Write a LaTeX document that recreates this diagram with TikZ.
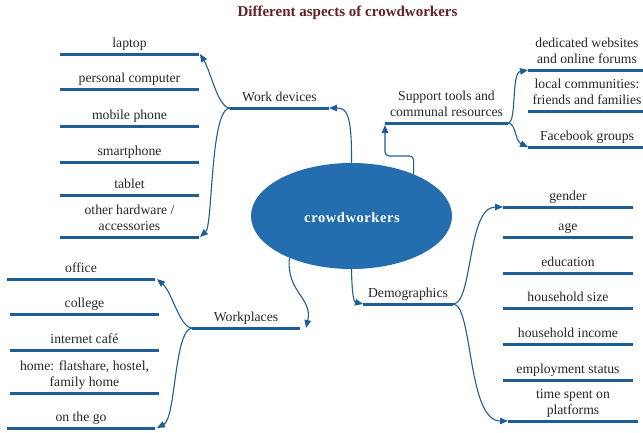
\documentclass[tikz,border=0pt]{standalone}
\usepackage{fontspec}
\setmainfont{Liberation Serif}
\usetikzlibrary{arrows.meta,calc,shapes.geometric}

\definecolor{mapblue}{RGB}{36,110,176}
\definecolor{barblue}{RGB}{30,94,150}
\definecolor{titlered}{RGB}{100,32,36}

\tikzset{
  barline/.style={draw=barblue, line width=3pt},
  conn/.style={draw=barblue, line width=1.1pt,
    -{Triangle[length=8pt,width=6.5pt]}},
  lbl/.style={inner sep=0pt, anchor=south, align=center, text=black!85,
    font=\fontsize{13.7}{16.5}\selectfont},
}

% a labelled bar: name, left x, right x, y, text
\newcommand\itembar[5]{%
  \coordinate (#1-l) at (#2,#4);
  \coordinate (#1-r) at (#3,#4);
  \draw[barline] (#1-l) -- (#1-r);
  \node[lbl] (#1) at ({(#2+#3)/2},#4-1) {#5\strut};
}

\begin{document}
\begin{tikzpicture}[x=1pt,y=-1pt]
\useasboundingbox (0,0) rectangle (643,432);

% title
\node[font=\fontsize{15}{18}\selectfont\bfseries, text=titlered, anchor=base]
  (title) at (347.5,16) {Different aspects of crowdworkers};

% central ellipse
\node[ellipse, fill=mapblue, minimum width=201pt, minimum height=106pt,
  inner sep=0pt] (cw) at (351.5,216) {};
\node[font=\fontsize{14.5}{17}\selectfont\bfseries, text=white, anchor=base]
  (cwtext) at (352,222) {\addfontfeatures{LetterSpace=4}crowdworkers};

% work devices
\itembar{wd}{230}{329}{108}{Work devices}
\itembar{lap}{60}{199}{54}{laptop}
\itembar{pc}{60}{199}{89}{personal computer}
\itembar{mob}{60}{199}{126}{mobile phone}
\itembar{sma}{60}{199}{162}{smartphone}
\itembar{tab}{60}{199}{195}{tablet}
\itembar{oth}{60}{199}{237}{other hardware /\\accessories}

% support tools
\itembar{sup}{385}{508}{123}{Support tools and\\communal resources}
\itembar{ded}{528}{646}{70}{dedicated websites\\and online forums}
\itembar{loc}{528}{646}{111}{local communities:\\friends and families}
\itembar{fac}{528}{646}{147}{Facebook groups}

% demographics
\itembar{dem}{363}{453}{304}{Demographics}
\itembar{gen}{503}{633}{207}{gender}
\itembar{age}{503}{633}{237}{age}
\itembar{edu}{503}{633}{273}{education}
\itembar{hsz}{503}{633}{308}{household size}
\itembar{hin}{503}{633}{344}{household income}
\itembar{emp}{503}{633}{380}{employment status}
\itembar{tim}{508}{638}{421}{time spent on\\platforms}

% workplaces
\itembar{wp}{192}{300}{328}{Workplaces}
\itembar{off}{7}{155}{279}{office}
\itembar{col}{10}{159}{314}{college}
\itembar{caf}{10}{159}{350}{internet café}
\itembar{hom}{10}{159}{393}{home: flatshare, hostel,\\family home}
\itembar{go}{7}{155}{428}{on the go}

% connectors from the centre
\draw[conn] (cw.north) .. controls (352,112) and (346,108) .. (wd-r);
\draw[conn, rounded corners=4pt] (cw.34) |- ([yshift=-33pt]sup-l) -- ([yshift=-2pt]sup-l);
\draw[conn] (cw.south) .. controls (352,296) and (354,302) .. (dem-l);
\draw[conn] (cw.214) .. controls (286,292) and (313,298) .. ([xshift=6pt]wp-r);

% work devices branches
\draw[conn] (wd-l) .. controls (218,108) and (211,72) .. ([xshift=1pt]lap-r);
\draw[conn] (wd-l) .. controls (210,108) and (213,225) .. ([xshift=1pt]oth-r);

% support branches
\draw[conn] (sup-r) .. controls (517,123) and (511,73) .. (ded-l);
\draw[conn] (sup-r) .. controls (516,123) and (515,141) .. (fac-l);

% demographics branches
\draw[conn] (dem-r) .. controls (473,304) and (467,207) .. (gen-l);
\draw[conn] (dem-r) .. controls (473,304) and (467,421) .. (tim-l);

% workplaces branches
\draw[conn] (wp-l) .. controls (180,328) and (172,292) .. ([xshift=2pt]off-r);
\draw[conn] (wp-l) .. controls (174,330) and (176,418) .. ([xshift=2pt]go-r);
\end{tikzpicture}
\end{document}
